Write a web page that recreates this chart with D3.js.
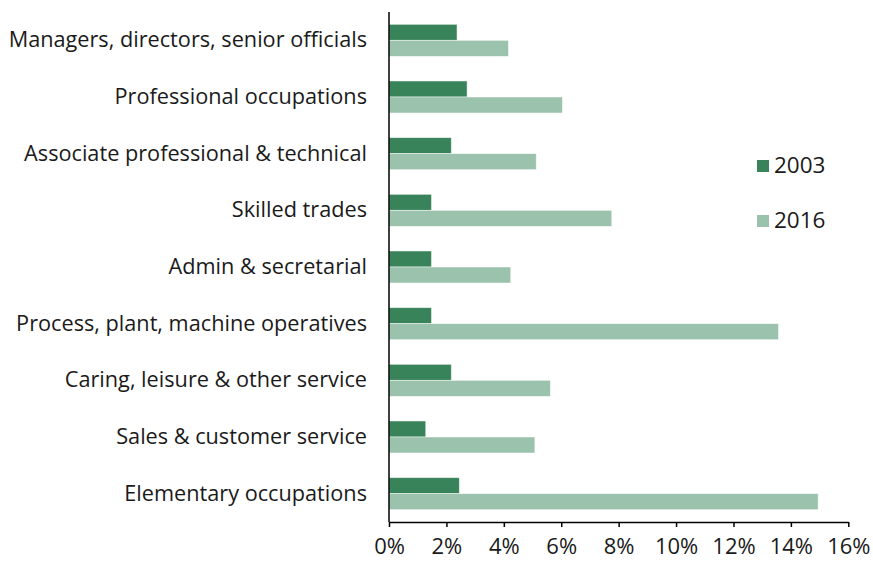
<!DOCTYPE html>
<html><head><meta charset="utf-8">
<script src="https://cdn.jsdelivr.net/npm/d3@7"></script>
<style>body{margin:0;background:#fff}svg{display:block}text{font-family:"Open Sans",sans-serif;fill:#1a1a1a}</style>
</head><body><svg id="c" width="873" height="561"></svg>
<script>
const categories = ["Managers, directors, senior officials","Professional occupations","Associate professional & technical","Skilled trades","Admin & secretarial","Process, plant, machine operatives","Caring, leisure & other service","Sales & customer service","Elementary occupations"];
const series = ["2003","2016"];
const values2003 = [2.37,2.72,2.17,1.48,1.48,1.48,2.17,1.28,2.45];
const values2016 = [4.16,6.04,5.13,7.76,4.24,13.57,5.62,5.08,14.95];
const xTicks = [0,2,4,6,8,10,12,14,16];
const colors = ["#38835a","#9ac2ad"];

const svg = d3.select("#c");
const m = {left:389, right:24, top:12, bottom:39};
const W = 873, H = 561;
const x = d3.scaleLinear().domain([0,16]).range([m.left, W-m.right-0.7]);
const y = d3.scaleBand().domain(categories).range([m.top, H-m.bottom]).paddingInner(0.435).paddingOuter(0.2175);
const ys = d3.scaleBand().domain(series).range([0, y.bandwidth()]);

const data = categories.map((c,i)=>({c, v:[values2003[i], values2016[i]]}));
const g = svg.append("g");
data.forEach(d=>{
  series.forEach((s,j)=>{
    g.append("rect").attr("x",x(0)).attr("y",y(d.c)+ys(s))
      .attr("width",x(d.v[j])-x(0)).attr("height",ys.bandwidth())
      .attr("fill",colors[j]).attr("stroke","rgba(255,255,255,0.6)").attr("stroke-width",0.8);
  });
});

// x axis
const xa = svg.append("g").attr("transform",`translate(0,${H-m.bottom})`)
  .call(d3.axisBottom(x).tickValues(xTicks).tickFormat(d=>d+"%").tickSize(5).tickSizeOuter(0));
xa.select(".domain").attr("stroke","#000").attr("stroke-width",1.5);
xa.selectAll(".tick line").attr("stroke","#000").attr("stroke-width",1.5);
xa.selectAll("text").attr("font-size",22).attr("dy",0).attr("y",32).style("font-family","'Open Sans',sans-serif").attr("fill","#1a1a1a");

// y axis
const ya = svg.append("g").attr("transform",`translate(${x(0)},0)`)
  .call(d3.axisLeft(y).tickSize(0).tickPadding(22));
ya.select(".domain").attr("stroke","#000").attr("stroke-width",1.5).attr("d",`M0,${m.top}V${H-m.bottom}`);
ya.selectAll("text").attr("font-size",21.7).style("font-family","'Open Sans',sans-serif").attr("fill","#1a1a1a");

// legend
const lg = svg.append("g");
series.forEach((s,j)=>{
  const yy = 160 + j*55;
  lg.append("rect").attr("x",757).attr("y",yy).attr("width",12).attr("height",12).attr("fill",colors[j]);
  lg.append("text").attr("x",774).attr("y",yy+13).attr("font-size",22.5).text(s);
});
</script></body></html>
